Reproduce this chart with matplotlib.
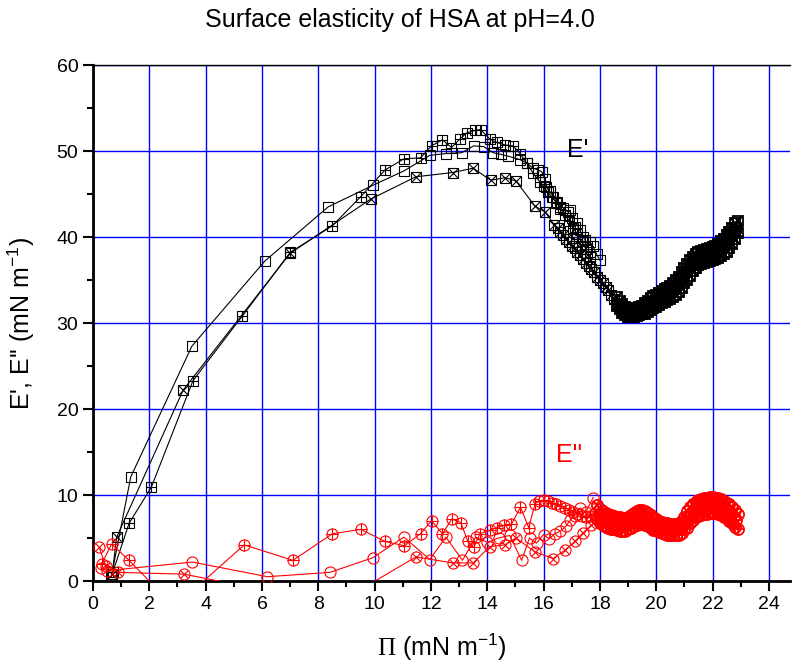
import numpy as np
import matplotlib
matplotlib.use("Agg")
import matplotlib.pyplot as plt

plt.rcParams['font.family'] = ['Liberation Sans', 'DejaVu Sans']
plt.rcParams['mathtext.fontset'] = 'custom'
plt.rcParams['mathtext.rm'] = 'Liberation Serif'
plt.rcParams['mathtext.sf'] = 'Liberation Sans'

# E' (storage) -- open squares
ep_open_x = [0.65, 1.34, 3.51, 6.10, 8.35, 9.93, 11.05, 11.96, 12.53, 13.09, 13.52, 13.88,
             14.21, 14.50, 14.74, 15.16, 15.40, 15.63, 15.80, 15.93, 16.05, 16.10, 16.22,
             16.34, 16.46, 16.58, 16.70, 16.87, 16.93, 17.02, 17.10, 17.17, 17.28, 17.40,
             17.47, 17.53, 17.65, 17.76, 17.88, 18.00]
ep_open_y = [0.5, 12.1, 27.3, 37.2, 43.5, 46.0, 47.7, 49.5, 49.7, 49.8, 50.6, 50.5,
             49.8, 49.6, 49.4, 49.0, 48.6, 48.0, 47.8, 47.6, 46.8, 45.8, 45.3,
             44.7, 44.1, 43.5, 43.4, 42.9, 43.1, 42.2, 41.2, 41.6, 40.8, 40.0,
             39.7, 38.9, 39.4, 38.9, 38.0, 37.3]

# E' -- squares with plus
ep_plus_x = [0.70, 1.28, 2.07, 3.55, 5.30, 7.00, 8.50, 9.51, 10.37, 11.05, 11.63, 12.02,
             12.41, 12.73, 13.03, 13.27, 13.56, 13.76, 14.09, 14.33, 14.63, 14.92, 15.16,
             15.40, 15.63, 15.87, 16.00, 16.15, 16.30, 16.45, 16.60, 16.75, 16.90, 17.05,
             17.20, 17.35, 17.50, 17.65]
ep_plus_y = [1.0, 6.7, 10.9, 23.3, 30.8, 38.2, 41.3, 44.7, 47.8, 49.1, 49.2, 50.6,
             51.3, 50.4, 51.4, 52.1, 52.4, 52.5, 51.4, 51.0, 50.7, 50.6, 49.7,
             48.6, 47.4, 46.4, 45.9, 45.2, 44.6, 44.0, 43.3, 42.6, 41.9, 41.1,
             40.3, 39.5, 38.6, 37.7]

# E' -- squares with cross
ep_cross_x = [0.68, 0.84, 3.20, 7.00, 9.86, 11.46, 12.78, 13.50, 14.12, 14.64, 15.02,
              15.69, 16.06, 16.38, 16.50, 16.60, 16.70, 16.80, 16.90, 17.00, 17.10,
              17.20, 17.30, 17.40, 17.50, 17.60, 17.70, 17.80, 17.90, 18.00, 18.10,
              18.20, 18.30, 18.40, 18.50]
ep_cross_y = [0.8, 5.1, 22.2, 38.1, 44.4, 47.0, 47.5, 48.0, 46.6, 46.9, 46.5,
              43.6, 42.9, 41.4, 41.0, 40.6, 40.2, 39.8, 39.4, 39.0, 38.7,
              38.3, 37.9, 37.4, 37.0, 36.6, 36.3, 35.9, 35.4, 35.0, 34.6,
              34.2, 33.8, 33.3, 32.8]

# E' dense tail (lower edge, upper edge and middle of the band)
tail_x = [18.6, 18.7, 18.8, 18.9, 19.0, 19.1, 19.2, 19.3, 19.4, 19.5, 19.6, 19.7, 19.8,
          19.9, 20.0, 20.1, 20.2, 20.3, 20.4, 20.5, 20.6, 20.7, 20.8, 20.9, 21.0, 21.1,
          21.2, 21.3, 21.4, 21.5, 21.6, 21.7, 21.8, 21.9, 22.0, 22.1, 22.2, 22.3, 22.4,
          22.5, 22.6, 22.7, 22.8, 22.9]
ep_tail_lo = [32.0, 31.6, 31.2, 30.9, 30.7, 30.7, 30.7, 30.8, 30.9, 31.0, 31.1, 31.3, 31.5,
              31.7, 31.9, 32.1, 32.3, 32.5, 32.7, 32.8, 33.0, 33.2, 33.6, 34.1, 34.6, 35.0,
              35.5, 36.0, 36.4, 36.7, 36.9, 37.0, 37.1, 37.2, 37.3, 37.4, 37.6, 37.8, 38.0,
              38.3, 38.7, 39.2, 39.8, 40.5]
ep_tail_hi = [33.0, 32.6, 32.2, 31.9, 31.7, 31.6, 31.6, 31.8, 31.9, 32.0, 32.3, 32.6, 32.9,
              33.1, 33.3, 33.5, 33.7, 33.9, 34.1, 34.3, 34.6, 35.0, 35.4, 35.9, 36.4, 36.9,
              37.3, 37.7, 38.0, 38.2, 38.4, 38.5, 38.6, 38.7, 38.8, 39.0, 39.2, 39.5, 39.8,
              40.2, 40.6, 41.1, 41.6, 41.9]
tail_mid_x = [18.65, 18.75, 18.85, 18.95, 19.05, 19.15, 19.25, 19.35, 19.45, 19.55, 19.65,
              19.75, 19.85, 19.95, 20.05, 20.15, 20.25, 20.35, 20.45, 20.55, 20.65, 20.75,
              20.85, 20.95, 21.05, 21.15, 21.25, 21.35, 21.45, 21.55, 21.65, 21.75, 21.85,
              21.95, 22.05, 22.15, 22.25, 22.35, 22.45, 22.55, 22.65, 22.75, 22.85]
ep_tail_mid = [32.1, 31.7, 31.4, 31.2, 31.1, 31.1, 31.2, 31.3, 31.4, 31.6, 31.9,
               32.1, 32.3, 32.5, 32.7, 32.9, 33.1, 33.3, 33.5, 33.7, 34.0, 34.4,
               34.9, 35.4, 35.9, 36.4, 36.8, 37.2, 37.5, 37.7, 37.8, 37.9, 38.0,
               38.1, 38.2, 38.4, 38.6, 38.9, 39.2, 39.6, 40.1, 40.6, 41.1]

# E'' (loss) -- circles with plus
epp_plus_x = [0.31, 0.66, 1.28, 2.90, 5.37, 7.10, 8.50, 9.51, 10.37, 11.06, 11.63, 12.02,
              12.41, 12.74, 13.06, 13.31, 13.52, 13.74, 14.09, 14.33, 14.60, 14.86, 15.18,
              15.47, 15.70, 15.85, 16.00, 16.15, 16.30, 16.45, 16.60, 16.75, 16.90, 17.05,
              17.20, 17.35, 17.50, 17.65, 17.80]
epp_plus_y = [2.0, 4.3, 2.4, -3.0, 4.2, 2.4, 5.5, 6.0, 4.6, 4.1, 5.5, 7.0,
              5.5, 7.2, 6.8, 4.6, 3.9, 5.5, 5.9, 6.2, 6.5, 6.6, 8.6,
              6.2, 9.0, 9.3, 9.4, 9.3, 9.1, 8.9, 8.7, 8.5, 8.3, 8.0,
              7.8, 7.6, 7.5, 7.6, 7.8]

# E'' -- open circles
epp_open_x = [0.30, 0.50, 3.53, 6.19, 8.41, 9.93, 11.04, 11.96, 12.53, 13.12, 13.59, 14.00,
              14.40, 14.80, 15.22, 15.50, 15.75, 16.00, 16.20, 16.40, 16.60, 16.80, 16.95,
              17.10, 17.30, 17.50, 17.76]
epp_open_y = [1.5, 1.2, 2.2, 0.5, 1.0, 2.7, 5.1, 2.5, 5.1, 2.4, 5.1, 4.5,
              5.0, 5.3, 2.4, 5.0, 4.4, 5.4, 4.9, 5.5, 5.8, 6.4, 7.1,
              7.6, 8.5, 8.0, 9.7]

# E'' -- circles with cross
epp_cross_x = [0.22, 0.45, 0.90, 3.23, 6.00, 9.60, 11.47, 12.77, 13.50, 14.09, 14.63,
               15.02, 15.69, 16.34, 16.76, 17.11, 17.40, 17.70, 18.00]
epp_cross_y = [3.9, 1.8, 1.0, 0.8, -1.0, -0.8, 2.8, 2.1, 2.1, 4.0, 4.2,
               5.0, 3.4, 2.6, 3.6, 4.6, 5.6, 6.5, 7.2]

# E'' dense tail
epp_tail_x = [17.9, 18.0, 18.1, 18.2, 18.3, 18.4, 18.5, 18.6, 18.7, 18.8, 18.9, 19.0, 19.1,
              19.2, 19.3, 19.4, 19.5, 19.6, 19.7, 19.8, 19.9, 20.0, 20.1, 20.2, 20.3, 20.4,
              20.5, 20.6, 20.7, 20.8, 20.9, 21.0, 21.1, 21.2, 21.3, 21.4, 21.5, 21.6, 21.7,
              21.8, 21.9, 22.0, 22.1, 22.2, 22.3, 22.4, 22.5, 22.6, 22.7, 22.8, 22.9]
epp_tail_lo = [7.2, 6.8, 6.5, 6.3, 6.2, 6.1, 6.0, 5.9, 5.8, 5.8, 5.8, 6.0, 6.2,
               6.4, 6.5, 6.6, 6.6, 6.5, 6.4, 6.2, 5.9, 5.9, 5.7, 5.6, 5.5, 5.4,
               5.3, 5.3, 5.3, 5.4, 5.6, 6.0, 6.2, 6.7, 7.1, 7.4, 7.6, 7.7, 7.8,
               7.8, 7.9, 7.9, 7.9, 7.8, 7.7, 7.5, 7.3, 7.0, 6.7, 6.3, 6.0]
epp_tail_hi = [8.8, 8.4, 8.1, 7.9, 7.8, 7.7, 7.6, 7.5, 7.4, 7.3, 7.3, 7.5, 7.7,
               7.9, 8.1, 8.2, 8.2, 8.1, 7.9, 7.7, 7.4, 7.2, 7.0, 6.9, 6.8, 6.7,
               6.6, 6.6, 6.6, 6.7, 7.0, 7.5, 8.1, 8.6, 9.0, 9.2, 9.4, 9.5, 9.6,
               9.7, 9.8, 9.8, 9.7, 9.6, 9.5, 9.3, 9.1, 8.9, 8.6, 8.3, 7.8]
epp_tail_mid_x = [17.95, 18.05, 18.15, 18.25, 18.35, 18.45, 18.55, 18.65, 18.75, 18.85,
                  18.95, 19.05, 19.15, 19.25, 19.35, 19.45, 19.55, 19.65, 19.75, 19.85,
                  19.95, 20.05, 20.15, 20.25, 20.35, 20.45, 20.55, 20.65, 20.75, 20.85,
                  20.95, 21.05, 21.15, 21.25, 21.35, 21.45, 21.55, 21.65, 21.75, 21.85,
                  21.95, 22.05, 22.15, 22.25, 22.35, 22.45, 22.55, 22.65, 22.75, 22.85]
epp_tail_mid = [7.8, 7.5, 7.2, 7.0, 6.9, 6.8, 6.7, 6.6, 6.6, 6.5,
                6.6, 6.8, 7.0, 7.2, 7.3, 7.4, 7.3, 7.2, 7.0, 6.8,
                6.6, 6.4, 6.3, 6.2, 6.1, 6.0, 5.9, 5.9, 6.0, 6.2,
                6.5, 7.0, 7.5, 7.9, 8.2, 8.4, 8.6, 8.7, 8.8, 8.8,
                8.9, 8.8, 8.7, 8.6, 8.5, 8.3, 8.1, 7.8, 7.5, 7.1]


def series(ax, x, y, color, shape, inner, ms, mew=0.8):
    ax.plot(x, y, linestyle='-', color=color, lw=0.8, marker=shape, ms=ms,
            mfc='none', mec=color, mew=mew, zorder=3)
    if inner == '+':
        ax.plot(x, y, linestyle='none', marker='+', ms=ms, mec=color, mew=mew, zorder=3)
    elif inner == 'x':
        s = ms if shape == 's' else ms * 0.707
        ax.plot(x, y, linestyle='none', marker='x', ms=s, mec=color, mew=mew, zorder=3)


fig = plt.figure(figsize=(7.92, 6.66), dpi=100)
ax = fig.add_axes([93 / 792, 85 / 666, 697 / 792, 516 / 666])

ax.set_xlim(0, 24.75)
ax.set_ylim(0, 60)
ax.set_xticks(np.arange(0, 25, 2))
ax.set_xticks(np.arange(1, 25, 2), minor=True)
ax.set_yticks(np.arange(0, 61, 10))
ax.set_yticks(np.arange(5, 60, 10), minor=True)
ax.grid(True, which='major', color='#0000ff', lw=1.0, zorder=0)
ax.set_axisbelow(True)

ax.tick_params(which='major', direction='out', length=7, width=1.5, labelsize=14)
ax.tick_params(which='minor', direction='out', length=4, width=1.5)
ax.spines['left'].set_linewidth(2)
ax.spines['bottom'].set_linewidth(2)
ax.spines['top'].set_linewidth(1)
ax.spines['right'].set_visible(False)

black = 'black'
red = '#ff0000'
sq = 7
ci = 8

series(ax, ep_open_x, ep_open_y, black, 's', None, sq)
series(ax, ep_plus_x, ep_plus_y, black, 's', '+', sq)
series(ax, ep_cross_x, ep_cross_y, black, 's', 'x', sq)
series(ax, tail_x, ep_tail_lo, black, 's', 'x', sq, mew=1.3)
series(ax, tail_x, ep_tail_hi, black, 's', 'x', sq, mew=1.3)
series(ax, tail_mid_x, ep_tail_mid, black, 's', 'x', sq, mew=1.3)

series(ax, epp_open_x, epp_open_y, red, 'o', None, ci)
series(ax, epp_plus_x, epp_plus_y, red, 'o', '+', ci)
series(ax, epp_cross_x, epp_cross_y, red, 'o', 'x', ci)
series(ax, epp_tail_x, epp_tail_lo, red, 'o', '+', ci, mew=1.3)
series(ax, epp_tail_x, epp_tail_hi, red, 'o', 'x', ci, mew=1.3)
series(ax, epp_tail_mid_x, epp_tail_mid, red, 'o', '+', ci, mew=1.3)

ax.text(17.2, 50.1, "E'", fontsize=18, color=black, ha='center', va='center')
ax.text(16.9, 14.7, "E''", fontsize=18, color=red, ha='center', va='center')

ax.set_xlabel(r"$\mathrm{\Pi}$ (mN m$^{\mathsf{-1}}$)", fontsize=18, labelpad=14)
ax.set_ylabel(r"E', E'' (mN m$^{\mathsf{-1}}$)", fontsize=18, labelpad=14)
fig.text(400 / 792, 1 - 20 / 666, "Surface elasticity of HSA at pH=4.0",
         fontsize=18, ha='center', va='center')

fig.savefig("out.png", dpi=100)
